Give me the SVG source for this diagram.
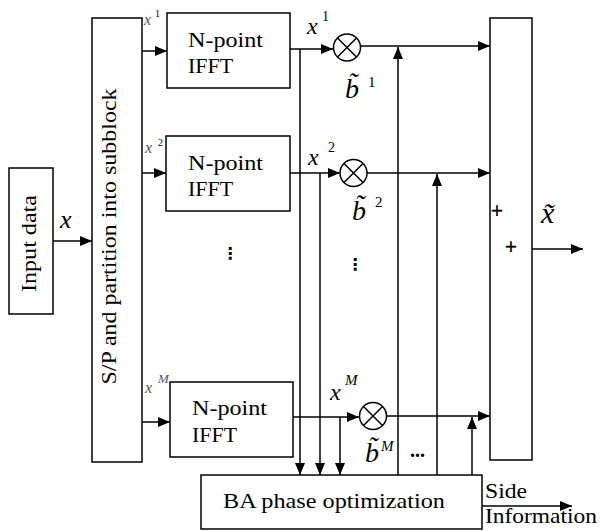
<svg xmlns="http://www.w3.org/2000/svg" width="600" height="531" viewBox="0 0 600 531">
<defs>
<marker id="arr" markerUnits="userSpaceOnUse" markerWidth="12" markerHeight="10" refX="12" refY="5" orient="auto">
<path d="M0,0 L12,5 L0,10 z" fill="#000"/>
</marker>
<style>
.box{fill:#fff;stroke:#000;stroke-width:1.5}
.ln{fill:none;stroke:#000;stroke-width:1.5}
.arr{marker-end:url(#arr)}
.t{font-family:"Liberation Serif","Times New Roman","DejaVu Serif",serif;fill:#000}
.mi{font-family:"Liberation Serif","Times New Roman","DejaVu Serif",serif;font-style:italic;fill:#000}
.up{font-family:"Liberation Serif","Times New Roman","DejaVu Serif",serif;font-style:normal;fill:#000}
.g{fill:#555}
.plus{stroke:#000;stroke-width:0.6}
.dots{font-family:"DejaVu Sans",sans-serif;fill:#000}
</style>
</defs>
<rect width="600" height="531" fill="#fff"/>

<g id="connectors">
<line class="ln arr" x1="53" y1="241" x2="92" y2="241"/>
<line class="ln arr" x1="142" y1="51" x2="167" y2="51"/>
<line class="ln arr" x1="142" y1="173" x2="166" y2="173"/>
<line class="ln arr" x1="142" y1="422" x2="170" y2="422"/>
<line class="ln arr" x1="290" y1="49" x2="333" y2="49"/>
<line class="ln arr" x1="300" y1="49" x2="300" y2="475"/>
<line class="ln arr" x1="290" y1="173" x2="340" y2="173"/>
<line class="ln arr" x1="320" y1="173" x2="320" y2="475"/>
<line class="ln arr" x1="293" y1="417" x2="359" y2="417"/>
<line class="ln arr" x1="340" y1="417" x2="340" y2="475"/>
<line class="ln arr" x1="361" y1="46" x2="490" y2="46"/>
<line class="ln arr" x1="367" y1="173" x2="490" y2="173"/>
<line class="ln arr" x1="387" y1="416" x2="490" y2="416"/>
<line class="ln arr" x1="398" y1="475" x2="398" y2="47"/>
<line class="ln arr" x1="437" y1="475" x2="437" y2="174"/>
<line class="ln arr" x1="472" y1="475" x2="472" y2="417"/>
<line class="ln arr" x1="532" y1="249" x2="583" y2="249"/>
<line class="ln arr" x1="482" y1="506" x2="572" y2="506"/>
</g>

<g id="input">
<rect class="box" x="9" y="168" width="44" height="146"/>
<text class="t" x="36" y="243.5" font-size="20" text-anchor="middle" textLength="97" lengthAdjust="spacingAndGlyphs" transform="rotate(-90 36 243.5)">Input data</text>
</g>
<text class="mi" x="60" y="228" font-size="26">x</text>

<g id="sp">
<rect class="box" x="92" y="18" width="50" height="444"/>
<text class="t" x="116" y="236.5" font-size="20" text-anchor="middle" textLength="296" lengthAdjust="spacingAndGlyphs" transform="rotate(-90 116 236.5)">S/P and partition into subblock</text>
</g>

<text class="mi g" x="144" y="25" font-size="16">x<tspan class="up" x="155" y="17" font-size="10">1</tspan></text>
<text class="mi g" x="145" y="153" font-size="16">x<tspan class="up" x="158" y="146" font-size="10">2</tspan></text>
<text class="mi g" x="145" y="393" font-size="16">x<tspan x="158" y="383" font-size="13">M</tspan></text>

<g id="ifft1">
<rect class="box" x="167" y="13" width="123" height="75"/>
<text class="t" x="188" y="47" font-size="21" textLength="75" lengthAdjust="spacingAndGlyphs">N-point</text>
<text class="t" x="188" y="73" font-size="21" textLength="45" lengthAdjust="spacingAndGlyphs">IFFT</text>
</g>
<g id="ifft2">
<rect class="box" x="166" y="136" width="124" height="75"/>
<text class="t" x="188" y="170" font-size="21" textLength="75" lengthAdjust="spacingAndGlyphs">N-point</text>
<text class="t" x="188" y="196" font-size="21" textLength="45" lengthAdjust="spacingAndGlyphs">IFFT</text>
</g>
<text class="dots" x="230" y="259" font-size="16" text-anchor="middle" font-weight="bold">⋮</text>
<g id="ifftM">
<rect class="box" x="170" y="382" width="123" height="75"/>
<text class="t" x="192" y="415" font-size="21" textLength="75" lengthAdjust="spacingAndGlyphs">N-point</text>
<text class="t" x="192" y="442" font-size="21" textLength="45" lengthAdjust="spacingAndGlyphs">IFFT</text>
</g>

<g id="mult1">
<circle class="ln" cx="347" cy="47.5" r="13.5" fill="#fff"/>
<path class="ln" d="M337.5,38 L356.5,57 M356.5,38 L337.5,57"/>
</g>
<text class="mi" x="307" y="34" font-size="24">x<tspan class="up" x="322" y="21" font-size="14">1</tspan></text>
<text class="mi" x="345" y="98" font-size="28">b̃<tspan class="up" x="368" y="87" font-size="15">1</tspan></text>

<g id="mult2">
<circle class="ln" cx="353.5" cy="173" r="13.5" fill="#fff"/>
<path class="ln" d="M344,163.5 L363,182.5 M363,163.5 L344,182.5"/>
</g>
<text class="mi" x="308" y="165" font-size="24">x<tspan class="up" x="328" y="152" font-size="14">2</tspan></text>
<text class="mi" x="352" y="220" font-size="28">b̃<tspan class="up" x="375" y="207" font-size="15">2</tspan></text>
<text class="dots" x="355" y="270" font-size="16" text-anchor="middle" font-weight="bold">⋮</text>

<g id="multM">
<circle class="ln" cx="373" cy="416" r="13.5" fill="#fff"/>
<path class="ln" d="M363.5,406.5 L382.5,425.5 M382.5,406.5 L363.5,425.5"/>
</g>
<text class="mi" x="330" y="400" font-size="24">x<tspan x="345" y="385" font-size="15">M</tspan></text>
<text class="mi" x="365" y="462" font-size="28">b̃<tspan x="381" y="451" font-size="15">M</tspan></text>
<text class="up" x="410" y="457" font-size="20" font-weight="bold">...</text>

<g id="sum">
<rect class="box" x="490" y="18" width="42" height="442"/>
<text class="up plus" x="491" y="218" font-size="21">+</text>
<text class="up plus" x="505" y="254" font-size="21">+</text>
</g>
<text class="mi" x="541" y="223" font-size="30">x̃</text>

<g id="ba">
<rect class="box" x="201" y="475" width="281" height="54"/>
<text class="t" x="223" y="508" font-size="22" textLength="222" lengthAdjust="spacingAndGlyphs">BA phase optimization</text>
</g>
<text class="t" x="485" y="498" font-size="21" textLength="42" lengthAdjust="spacingAndGlyphs">Side</text>
<text class="t" x="485" y="523" font-size="21" textLength="112" lengthAdjust="spacingAndGlyphs">Information</text>
</svg>
